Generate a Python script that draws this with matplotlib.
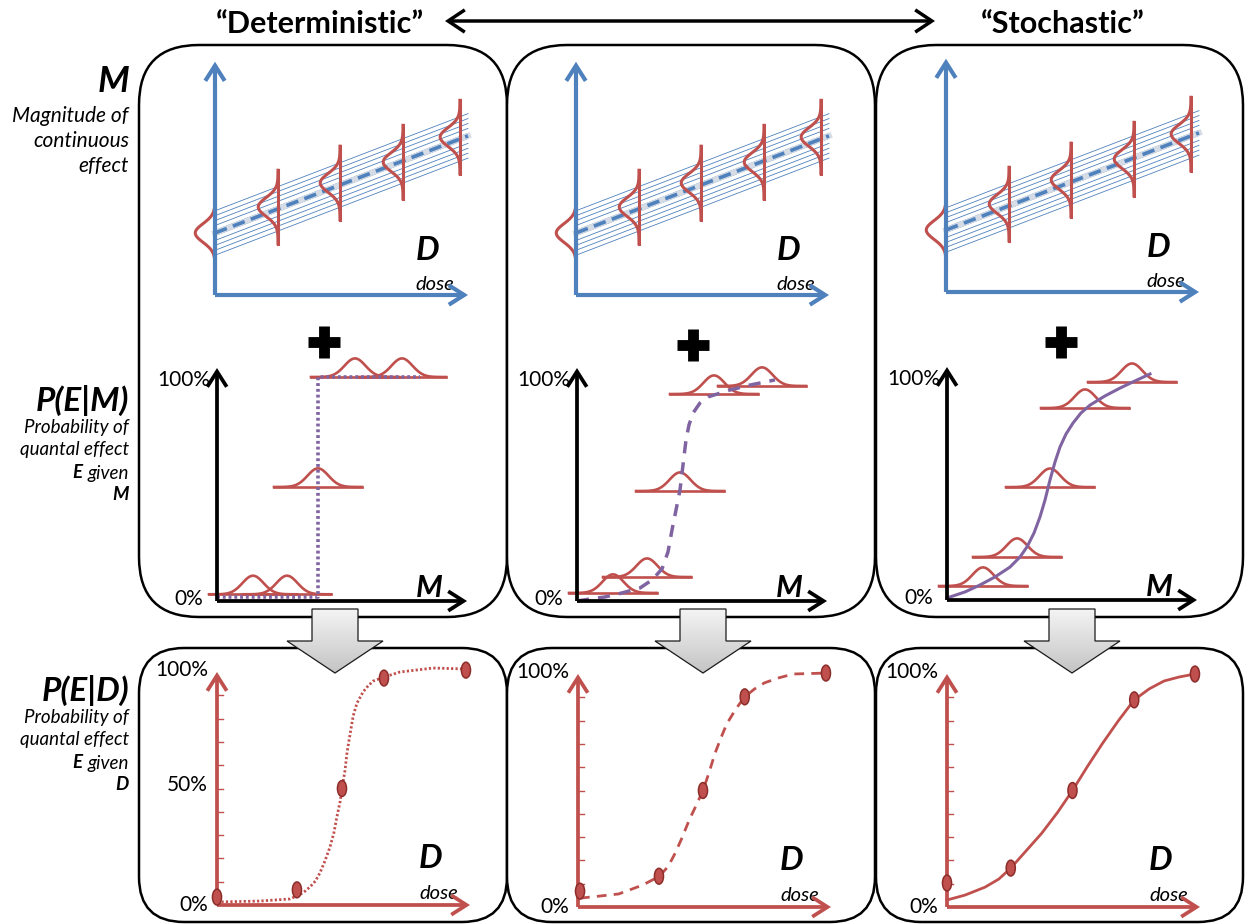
"""
Deterministic vs stochastic dose-response schematic.

  Row 1: magnitude M of a continuous effect vs dose D (linear trend + scatter).
  Row 2: P(E|M), probability of the quantal effect given M.
  Row 3: P(E|D), the resulting dose-response.
"""

import numpy as np
import matplotlib
matplotlib.use('Agg')
import matplotlib.pyplot as plt
from matplotlib.patches import FancyBboxPatch, FancyArrowPatch, Polygon, Ellipse
from matplotlib.colors import LinearSegmentedColormap


# ---- data (unit coordinates inside each little plot) ----
# row 1: M vs D
M_LINE_D = [0.0, 1.0]
M_LINE_M = [0.265, 0.68]
BAND_OFFSETS = [-0.095, -0.074, -0.053, -0.032, -0.011, 0.011, 0.032, 0.053, 0.074, 0.095]
DIST_D = [0.0, 0.249, 0.494, 0.743, 0.968]
DIST_M = [0.265, 0.376, 0.479, 0.568, 0.675]

# row 2: P(E|M), gaussian glyph centres (M) and levels (P)
DET_G_M = [0.144, 0.28, 0.404, 0.552, 0.74]
DET_G_P = [0.03, 0.03, 0.509, 1.0, 1.0]
MID_G_M = [0.144, 0.28, 0.412, 0.548, 0.74]
MID_G_P = [0.036, 0.107, 0.491, 0.924, 0.96]
STO_G_M = [0.144, 0.28, 0.412, 0.552, 0.74]
STO_G_P = [0.0625, 0.192, 0.504, 0.857, 0.973]

DET_PEM_M = [0.0, 0.404, 0.404, 0.81]
DET_PEM_P = [0.018, 0.018, 1.0, 1.0]
MID_PEM_M = [0.0, 0.052, 0.112, 0.18, 0.252, 0.3, 0.34, 0.364, 0.38, 0.396, 0.412,
             0.424, 0.436, 0.448, 0.464, 0.492, 0.524, 0.612, 0.692, 0.792]
MID_PEM_P = [0.0, 0.009, 0.018, 0.036, 0.058, 0.094, 0.143, 0.219, 0.317, 0.406, 0.496,
             0.607, 0.719, 0.786, 0.839, 0.884, 0.911, 0.942, 0.964, 0.987]
STO_PEM_M = [0.0, 0.072, 0.132, 0.192, 0.252, 0.292, 0.32, 0.348, 0.372, 0.392, 0.412,
             0.432, 0.452, 0.476, 0.504, 0.536, 0.572, 0.632, 0.692, 0.752, 0.812]
STO_PEM_P = [0.009, 0.036, 0.067, 0.103, 0.147, 0.192, 0.237, 0.299, 0.371, 0.446, 0.536,
             0.616, 0.683, 0.741, 0.79, 0.835, 0.87, 0.911, 0.946, 0.978, 1.009]

# row 3: P(E|D), dose-response points and curves
DET_PT_D = [0.0, 0.316, 0.494, 0.660, 0.984]
DET_PT_P = [0.034, 0.065, 0.50, 0.974, 1.008]
MID_PT_D = [0.008, 0.32, 0.494, 0.659, 0.98]
MID_PT_P = [0.068, 0.132, 0.50, 0.902, 1.004]
STO_PT_D = [0.0, 0.252, 0.496, 0.74, 0.98]
STO_PT_P = [0.103, 0.167, 0.50, 0.889, 1.0]

DET_PED_D = [0.0, 0.17, 0.289, 0.34, 0.368, 0.389, 0.407, 0.427, 0.447, 0.462, 0.474,
             0.486, 0.494, 0.506, 0.514, 0.526, 0.538, 0.553, 0.577, 0.597, 0.617,
             0.66, 0.723, 0.854, 0.984]
DET_PED_P = [0.013, 0.017, 0.026, 0.052, 0.078, 0.103, 0.138, 0.19, 0.25, 0.31, 0.379,
             0.44, 0.5, 0.578, 0.655, 0.733, 0.81, 0.866, 0.914, 0.94, 0.961,
             0.978, 1.0, 1.017, 1.013]
MID_PED_D = [0.008, 0.086, 0.161, 0.255, 0.322, 0.357, 0.384, 0.412, 0.439, 0.467, 0.494,
             0.518, 0.541, 0.565, 0.588, 0.624, 0.659, 0.698, 0.737, 0.792, 0.851, 0.98]
MID_PED_P = [0.038, 0.047, 0.056, 0.094, 0.132, 0.175, 0.231, 0.299, 0.372, 0.436, 0.5,
             0.577, 0.658, 0.726, 0.786, 0.85, 0.902, 0.936, 0.962, 0.983, 1.0, 1.004]
STO_PED_D = [0.0, 0.071, 0.15, 0.205, 0.252, 0.311, 0.374, 0.437, 0.496, 0.555, 0.614,
             0.677, 0.74, 0.799, 0.858, 0.917, 0.98]
STO_PED_P = [0.03, 0.051, 0.085, 0.12, 0.167, 0.239, 0.316, 0.406, 0.5, 0.603, 0.701,
             0.799, 0.889, 0.936, 0.97, 0.987, 1.0]

TICK_LEVELS = [0.1, 0.2, 0.3, 0.4, 0.5, 0.6, 0.7, 0.8, 0.9]

RED = '#C0504D'
DARKRED = '#8C2D2A'
BLUE = '#4F81BD'
PURPLE = '#8064A2'

W, H = 1245, 924
plt.rcParams['font.family'] = ['Lato', 'DejaVu Sans']

fig = plt.figure(figsize=(W / 100, H / 100), dpi=100)
canvas = fig.add_axes([0, 0, 1, 1])
canvas.axis('off')


def px_axes(x0, y0, w, h):
    """Axes whose unit square sits at pixel origin (x0, y0) (y downwards)."""
    ax = fig.add_axes([x0 / W, 1 - y0 / H, w / W, h / H])
    ax.set_xlim(0, 1)
    ax.set_ylim(0, 1)
    ax.axis('off')
    return ax


def arrow(ax, p0, p1, color, lw, style='->', hl=0.55, hw=0.35, z=4):
    a = FancyArrowPatch(p0, p1, arrowstyle=f'{style},head_length={hl},head_width={hw}',
                        mutation_scale=20, lw=lw, color=color, shrinkA=0, shrinkB=0,
                        clip_on=False, zorder=z, joinstyle='miter', capstyle='butt')
    ax.add_patch(a)


def vert_dist(ax, d, m, half=0.157, width=0.078, sigma=0.04):
    mm = np.linspace(m - half, m + half, 80)
    ax.plot(d - width * np.exp(-0.5 * ((mm - m) / sigma) ** 2), mm,
            color=RED, lw=2.2, clip_on=False, zorder=3)
    ax.plot([d, d], [m - half, m + half], color=RED, lw=2.2, clip_on=False, zorder=3)


def horiz_dist(ax, c, p, half=0.176, height=0.083, sigma=0.042):
    xx = np.linspace(c - half, c + half, 80)
    ax.plot(xx, p + height * np.exp(-0.5 * ((xx - c) / sigma) ** 2),
            color=RED, lw=1.9, clip_on=False, zorder=2)
    ax.plot([c - half, c + half], [p, p], color=RED, lw=1.9, clip_on=False, zorder=2)


# ---- frames ----
for x0, x1 in [(139, 507), (507, 875), (876, 1243)]:
    canvas.add_patch(FancyBboxPatch((x0, 45), x1 - x0, 572,
                                    boxstyle='round,pad=0,rounding_size=60',
                                    fc='white', ec='black', lw=1.8, zorder=1))
    canvas.add_patch(FancyBboxPatch((x0, 648), x1 - x0, 274,
                                    boxstyle='round,pad=0,rounding_size=45',
                                    fc='white', ec='black', lw=1.8, zorder=1))

# gray block arrows between row 2 and row 3
cmap_gray = LinearSegmentedColormap.from_list('g', ['#F4F4F4', '#C4C4C4'])
grad = np.linspace(0, 1, 100).reshape(-1, 1)
for cx in [335, 703, 1072]:
    pts = [(cx - 23, 609), (cx + 23, 609), (cx + 23, 641), (cx + 48, 641),
           (cx, 673), (cx - 48, 641), (cx - 23, 641)]
    poly = Polygon(pts, closed=True, fc='none', ec='#1a1a1a', lw=0.9, zorder=6)
    canvas.add_patch(poly)
    im = canvas.imshow(grad, extent=(cx - 48, cx + 48, 673, 609), cmap=cmap_gray,
                       aspect='auto', origin='upper', zorder=5)
    im.set_clip_path(poly)

# plus signs
for cx, cy in [(324, 342), (693, 345), (1061, 342)]:
    canvas.plot([cx - 16, cx + 16], [cy, cy], color='black', lw=7.8, solid_capstyle='butt')
    canvas.plot([cx, cx], [cy - 16, cy + 16], color='black', lw=7.8, solid_capstyle='butt')

# header
canvas.text(320, 24, '\u201cDeterministic\u201d', ha='center', va='center',
            fontsize=22, fontweight='bold')
canvas.text(1063, 24, '\u201cStochastic\u201d', ha='center', va='center',
            fontsize=22, fontweight='bold')
arrow(canvas, (445, 21), (935, 21), 'black', 2.5, style='<->', hl=0.6, hw=0.4)

canvas.set_xlim(0, W)
canvas.set_ylim(H, 0)

# ---- left labels ----
RX = 129
canvas.text(RX, 82, 'M', ha='right', va='center', fontsize=26,
            fontweight='bold', style='italic')
for y, s in [(116, 'Magnitude of'), (141, 'continuous'), (166, 'effect')]:
    canvas.text(RX, y, s, ha='right', va='center', fontsize=15, style='italic')

for y0, sym, var in [(400, 'P(E|M)', 'M'), (690, 'P(E|D)', 'D')]:
    canvas.text(RX, y0, sym, ha='right', va='center', fontsize=24,
                fontweight='bold', style='italic')
    canvas.text(RX, y0 + 28, 'Probability of', ha='right', va='center',
                fontsize=13.5, style='italic')
    canvas.text(RX, y0 + 50, 'quantal effect', ha='right', va='center',
                fontsize=13.5, style='italic')
    canvas.text(RX, y0 + 73, 'given', ha='right', va='center', fontsize=13.5, style='italic')
    canvas.text(82, y0 + 73, 'E', ha='right', va='center', fontsize=13.5,
                fontweight='bold', style='italic')
    canvas.text(RX, y0 + 95, var, ha='right', va='center', fontsize=13.5,
                fontweight='bold', style='italic')

# ---- row 1: M vs D ----
for ox, oy in [(215, 295), (576, 295), (946, 292)]:
    ax = px_axes(ox, oy, 253, 234)
    for off in BAND_OFFSETS:
        ax.plot(M_LINE_D, [m + off for m in M_LINE_M], color=BLUE, lw=0.6,
                clip_on=False, zorder=1)
    ax.plot(M_LINE_D, M_LINE_M, color='#D5DCE6', lw=4.2, clip_on=False, zorder=2)
    ax.plot(M_LINE_D, M_LINE_M, color=BLUE, lw=2.6, ls=(0, (3.5, 1.8)),
            clip_on=False, zorder=2)
    for d, m in zip(DIST_D, DIST_M):
        vert_dist(ax, d, m)
    arrow(ax, (0, 0), (0, 0.997), BLUE, 3.0)
    arrow(ax, (0, 0), (1.0, 0), BLUE, 3.0)
    ax.text(0.842, 0.19, 'D', ha='center', va='center', fontsize=24,
            fontweight='bold', style='italic')
    ax.text(0.87, 0.045, 'dose', ha='center', va='center', fontsize=14.5, style='italic')

# ---- row 2: P(E|M) ----
pem = [
    (217, 601, DET_G_M, DET_G_P, DET_PEM_M, DET_PEM_P, (0, (0.8, 0.8)), 2.6),
    (577, 601, MID_G_M, MID_G_P, MID_PEM_M, MID_PEM_P, (0, (3.5, 2.6)), 2.5),
    (947, 600, STO_G_M, STO_G_P, STO_PEM_M, STO_PEM_P, '-', 2.2),
]
for ox, oy, gm, gp, cm, cp, ls, lw in pem:
    ax = px_axes(ox, oy, 250, 224)
    for c, p in zip(gm, gp):
        horiz_dist(ax, c, p)
    ax.plot(cm, cp, color=PURPLE, lw=lw, ls=ls, clip_on=False, zorder=3)
    arrow(ax, (0, 0), (0, 1.04), 'black', 2.7)
    arrow(ax, (0, 0), (1.0, 0), 'black', 2.7)
    ax.text(-0.025, 0.985, '100%', ha='right', va='center', fontsize=15)
    ax.text(-0.055, 0.01, '0%', ha='right', va='center', fontsize=15)
    ax.text(0.85, 0.06, 'M', ha='center', va='center', fontsize=22,
            fontweight='bold', style='italic')

# ---- row 3: P(E|D) ----
ped = [
    (217, 905, DET_PT_D, DET_PT_P, DET_PED_D, DET_PED_P, (0, (0.8, 0.8)), True),
    (578, 907, MID_PT_D, MID_PT_P, MID_PED_D, MID_PED_P, (0, (3.5, 2.6)), False),
    (947, 907, STO_PT_D, STO_PT_P, STO_PED_D, STO_PED_P, '-', False),
]
for ox, oy, pd_, pp, cd, cp, ls, half_label in ped:
    ax = px_axes(ox, oy, 253, 233)
    for t in TICK_LEVELS:
        ax.plot([0, 0.022], [t, t], color=RED, lw=1.0, clip_on=False)
    arrow(ax, (0, 0), (0, 1.0), RED, 2.7)
    arrow(ax, (0, 0), (1.0, 0), RED, 2.7)
    ax.plot(cd, cp, color=RED, lw=2.0, ls=ls, clip_on=False, zorder=3)
    for d, p in zip(pd_, pp):
        ax.add_patch(Ellipse((d, p), 0.036, 0.068, fc=RED, ec=DARKRED, lw=1.1,
                             clip_on=False, zorder=5))
    ax.text(-0.035, 1.01, '100%', ha='right', va='center', fontsize=15)
    ax.text(-0.035, 0.0, '0%', ha='right', va='center', fontsize=15)
    if half_label:
        ax.text(-0.035, 0.513, '50%', ha='right', va='center', fontsize=15)
    ax.text(0.845, 0.2, 'D', ha='center', va='center', fontsize=24,
            fontweight='bold', style='italic')
    ax.text(0.875, 0.05, 'dose', ha='center', va='center', fontsize=14.5, style='italic')

fig.savefig('out.png', dpi=100)
